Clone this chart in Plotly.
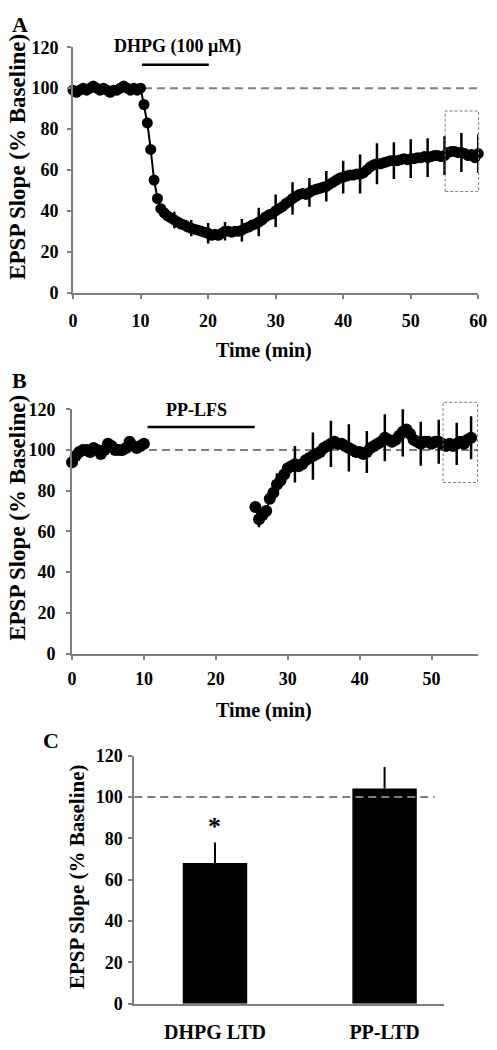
import numpy as np
import plotly.graph_objects as go

W, H = 497, 1050
FONT = "Liberation Serif"
GRAY = "#7f7f7f"

# ---------------- Panel A : DHPG ----------------
A_t0, A_dt = 0.0, 0.5
A_slope = [
    99, 98, 99, 100, 99, 100, 101, 100, 99, 100, 99, 98, 99, 99, 100, 101, 100, 99, 100, 99, 100,
    92, 83, 70, 55, 46, 41, 39, 37.5, 36.5, 35.5,
    34.5, 33.5, 33, 32, 31.5, 31, 30.5, 30, 29.5, 29,
    28, 28.5, 28, 29, 30, 30, 29.5, 30, 30, 30.5,
    31.5, 32, 33, 33.5, 34.5, 35.5, 37, 38, 38.5, 40,
    41, 42, 43.5, 44.5, 46, 47, 48, 48.5, 48, 49,
    50, 50.5, 51, 51.5, 52, 53, 54, 55, 56, 56.5,
    57, 57.5, 57.5, 58, 58, 58.5, 60, 61.5, 62.5, 63,
    63, 63.5, 64, 64.5, 64.5, 64.5, 65, 65.5, 65, 65.5,
    65.5, 66, 66, 66.5, 66, 66.5, 67, 67, 66.5, 67,
    68.5, 69, 69, 68.5, 68.5, 68, 67, 67.5, 66, 68,
]
A_err_t = [12.5, 15, 17.5, 20, 22.5, 25, 27.5, 30, 32.5, 35, 37.5, 40,
           42.5, 45, 47.5, 50, 52.5, 55, 57.5, 60]
A_err = [2.5, 4, 4, 5, 4.5, 5.5, 7, 8, 8, 7, 7.5, 8,
         9.5, 10, 9, 9.5, 9.5, 9.5, 9.5, 9.5]
A_xticks = [0, 10, 20, 30, 40, 50, 60]
A_stim = [10.2, 20.1]
A_box = [55.1, 60.05, 49.4, 88.8]

# ---------------- Panel B : PP-LFS ----------------
B_dt = 0.5
B_base_t0 = 0.0
B_base = [94, 97, 99, 100, 100, 99, 101, 100, 98, 100, 103,
          102, 100, 100, 100, 101, 104, 102, 101, 102, 103]
B_post_t0 = 25.5
B_post = [
    72, 66, 68, 70, 76, 79, 83, 85, 88, 91,
    92, 93, 92, 93, 95, 96, 97, 98, 99, 101,
    102, 103, 104, 103, 103, 102, 101, 100, 99, 99,
    98, 99, 101, 102, 103, 104, 106, 105, 104, 105,
    107, 109, 110, 108, 105, 104, 103, 104, 104, 103,
    104, 104, 103, 102, 103, 102, 103, 104, 103, 105, 106,
]
B_err_t = [26, 28.5, 31, 33.5, 36, 38.5, 41, 43.5, 46, 48.5, 51, 53.5, 55.5]
B_err = [4, 5.6, 9, 11.6, 11.4, 11.6, 10.3, 11.6, 12.2, 10.8, 10.8, 10.4, 10.6]
B_xticks = [0, 10, 20, 30, 40, 50]
B_xmax = 56.5
B_stim = [10.5, 25.4]
B_box = [51.6, 56.4, 84, 123.4]

# ---------------- Panel C : summary ----------------
C_cats = ["DHPG LTD", "PP-LTD"]
C_vals = [68, 104]
C_err = [10, 10.5]

Y_TICKS = [0, 20, 40, 60, 80, 100, 120]
Y_MAX = 120

# ---------------- layout geometry (pixels) ----------------
def px_x(p):
    return p / W

def px_y(p):
    return 1 - p / H

domA_x = [px_x(70), px_x(487)]
domA_y = [px_y(288), px_y(38)]
domB_x = [px_x(69), px_x(487)]
domB_y = [px_y(656), px_y(407)]
domC_x = [px_x(133), px_x(452)]
domC_y = [px_y(1013), px_y(760)]

tA = [A_t0 + A_dt * i for i in range(len(A_slope))]
tB_base = [B_base_t0 + B_dt * i for i in range(len(B_base))]
tB_post = [B_post_t0 + B_dt * i for i in range(len(B_post))]
tB = tB_base + [None] + tB_post
yB = B_base + [None] + B_post

lookA = dict(zip(tA, A_slope))
lookB = dict(zip(tB_base + tB_post, B_base + B_post))

fig = go.Figure()

# Panel A
fig.add_trace(go.Scatter(
    x=tA, y=A_slope, mode="lines+markers",
    line=dict(color="black", width=2),
    marker=dict(color="black", size=11),
    cliponaxis=False, xaxis="x", yaxis="y", showlegend=False))
fig.add_trace(go.Scatter(
    x=A_err_t, y=[lookA[t] for t in A_err_t], mode="markers",
    marker=dict(size=1, color="rgba(0,0,0,0)"),
    error_y=dict(type="data", array=A_err, width=0, thickness=2.5, color="black"),
    cliponaxis=False, xaxis="x", yaxis="y", showlegend=False))

# Panel B
fig.add_trace(go.Scatter(
    x=tB, y=yB, mode="lines+markers",
    line=dict(color="black", width=2),
    marker=dict(color="black", size=12),
    connectgaps=False,
    cliponaxis=False, xaxis="x2", yaxis="y2", showlegend=False))
fig.add_trace(go.Scatter(
    x=B_err_t, y=[lookB[t] for t in B_err_t], mode="markers",
    marker=dict(size=1, color="rgba(0,0,0,0)"),
    error_y=dict(type="data", array=B_err, width=0, thickness=2.5, color="black"),
    cliponaxis=False, xaxis="x2", yaxis="y2", showlegend=False))

# Panel C
fig.add_trace(go.Bar(
    x=C_cats, y=C_vals, width=0.38,
    marker=dict(color="black", line=dict(width=0)),
    error_y=dict(type="data", symmetric=False, array=C_err,
                 arrayminus=[0] * len(C_err), width=0, thickness=2, color="black"),
    xaxis="x3", yaxis="y3", showlegend=False))

TICKFONT = dict(family=FONT, size=18, color="black", weight="bold")

def ax(**kw):
    d = dict(showline=True, linecolor=GRAY, linewidth=2, ticks="outside",
             ticklen=4, tickcolor=GRAY, tickwidth=1.5, showgrid=False,
             zeroline=False, tickfont=TICKFONT, ticklabeloverflow="allow")
    d.update(kw)
    return d

fig.update_layout(
    width=W, height=H,
    margin=dict(l=0, r=0, t=0, b=0),
    paper_bgcolor="white", plot_bgcolor="white",
    font=dict(family=FONT, size=18, color="black", weight="bold"),
    xaxis=ax(domain=domA_x, anchor="y", range=[0, 60], tickvals=A_xticks, ticklabelstandoff=7),
    yaxis=ax(domain=domA_y, anchor="x", range=[0, Y_MAX], tickvals=Y_TICKS, ticklabelstandoff=5),
    xaxis2=ax(domain=domB_x, anchor="y2", range=[0, B_xmax], tickvals=B_xticks, ticklabelstandoff=4),
    yaxis2=ax(domain=domB_y, anchor="x2", range=[0, Y_MAX], tickvals=Y_TICKS, ticklabelstandoff=7),
    xaxis3=ax(domain=domC_x, anchor="y3", type="category", range=[-0.476, 1.352],
              ticks="", tickfont=dict(family=FONT, size=20, color="black", weight="bold"),
              ticklabelstandoff=9),
    yaxis3=ax(domain=domC_y, anchor="x3", range=[0, Y_MAX], tickvals=Y_TICKS, ticklabelstandoff=2),
)

dash_base = dict(color=GRAY, width=2, dash="8px,5px")
box_line = dict(color=GRAY, width=1, dash="3px,2px")

def a_paper_y(v):
    return domA_y[0] + v / Y_MAX * (domA_y[1] - domA_y[0])

def a_paper_x(t):
    return domA_x[0] + t / 60 * (domA_x[1] - domA_x[0])

def b_paper_y(v):
    return domB_y[0] + v / Y_MAX * (domB_y[1] - domB_y[0])

def b_paper_x(t):
    return domB_x[0] + t / B_xmax * (domB_x[1] - domB_x[0])

shapes = [
    # Panel A baseline, stim bar, box
    dict(type="line", xref="x", yref="y", x0=10.5, x1=60, y0=100, y1=100, line=dash_base, layer="below"),
    dict(type="line", xref="x", yref="y", x0=A_stim[0], x1=A_stim[1], y0=111.4, y1=111.4,
         line=dict(color="black", width=2.5)),
    dict(type="rect", xref="paper", yref="paper",
         x0=a_paper_x(A_box[0]), x1=a_paper_x(A_box[1]),
         y0=a_paper_y(A_box[2]), y1=a_paper_y(A_box[3]), line=box_line),
    # Panel B
    dict(type="line", xref="x2", yref="y2", x0=10.7, x1=B_xmax, y0=100, y1=100, line=dash_base, layer="below"),
    dict(type="line", xref="x2", yref="y2", x0=B_stim[0], x1=B_stim[1], y0=111.3, y1=111.3,
         line=dict(color="black", width=2.5)),
    dict(type="rect", xref="paper", yref="paper",
         x0=b_paper_x(B_box[0]), x1=b_paper_x(B_box[1]),
         y0=b_paper_y(B_box[2]), y1=b_paper_y(B_box[3]), line=box_line),
    # Panel C baseline
    dict(type="line", xref="x3 domain", yref="y3", x0=0, x1=0.969, y0=100, y1=100, line=dash_base),
]
fig.update_layout(shapes=shapes)

ytitle = "EPSP Slope (% Baseline)"
annotations = [
    dict(text="A", x=px_x(15), y=px_y(15), font=dict(size=22)),
    dict(text="B", x=px_x(15), y=px_y(378), font=dict(size=22)),
    dict(text="C", x=px_x(47), y=px_y(745), font=dict(size=22)),
    dict(text=ytitle, x=px_x(12), y=px_y(150), textangle=-90, font=dict(size=23)),
    dict(text=ytitle, x=px_x(12), y=px_y(518), textangle=-90, font=dict(size=23)),
    dict(text=ytitle, x=px_x(74), y=px_y(883), textangle=-90, font=dict(size=21)),
    dict(text="Time (min)", x=px_x(266), y=px_y(347), font=dict(size=20)),
    dict(text="Time (min)", x=px_x(266), y=px_y(714), font=dict(size=20)),
    dict(text="DHPG (100 \u03bcM)", x=a_paper_x(15.4), y=a_paper_y(120.6), font=dict(size=18)),
    dict(text="PP-LFS", x=b_paper_x(17.3), y=b_paper_y(119.5), font=dict(size=18)),
    dict(text="*", xref="x3", yref="y3", x="DHPG LTD", y=85.5, font=dict(size=26)),
]
for a in annotations:
    a.setdefault("xref", "paper")
    a.setdefault("yref", "paper")
    a.update(showarrow=False, xanchor="center", yanchor="middle")
fig.update_layout(annotations=annotations)

fig.write_html("out.html",
               config={"displayModeBar": False},
               post_script="document.body.style.margin='0';document.body.style.overflow='hidden';")
